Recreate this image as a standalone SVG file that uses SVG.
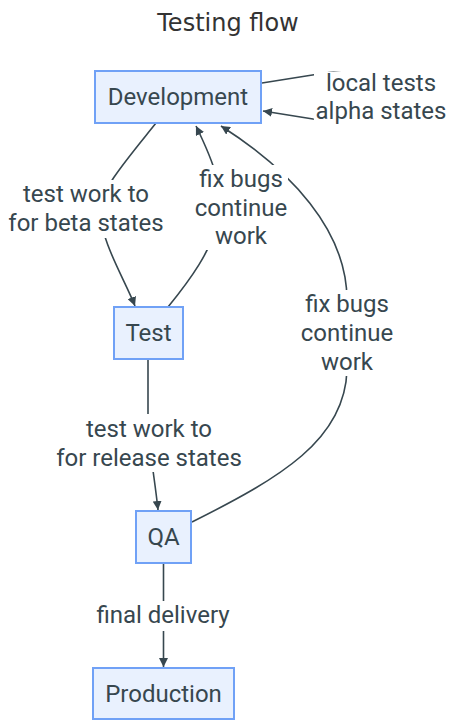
<svg xmlns="http://www.w3.org/2000/svg" width="450" height="720" viewBox="0 0 450 720">
<defs>
<marker id="arr" viewBox="0 0 10 10" refX="10" refY="5" markerWidth="9" markerHeight="9" markerUnits="userSpaceOnUse" orient="auto">
<path d="M0,0 L10,5 L0,10 z" fill="#37474f"/>
</marker>
<style>
.node rect{fill:#e9f1fe;stroke:#70a1f6;stroke-width:2}
.node text{font-family:Roboto,"Liberation Sans",sans-serif;font-size:24px;fill:#37474f;text-anchor:middle}
.edge{fill:none;stroke:#37474f;stroke-width:1.6}
.lbl rect{fill:#ffffff}
.lbl text{font-family:Roboto,"Liberation Sans",sans-serif;font-size:24px;fill:#37474f;text-anchor:middle}
.title{font-family:"DejaVu Sans",sans-serif;font-size:24px;fill:#333333;text-anchor:middle}
</style>
</defs>
<rect width="450" height="720" fill="#ffffff"/>
<text class="title" x="228" y="31">Testing flow</text>
<g id="connectors">
<path class="edge" d="M262,83 L325,73 C360,68 385,95 362,110 C345,120 330,120 313,119 L263,111" marker-end="url(#arr)"/>
<path class="edge" d="M156,123 C128,158 100,190 100,210 C100,240 125,280 135,306" marker-end="url(#arr)"/>
<path class="edge" d="M168,307 C190,280 212,250 218,220 C224,190 215,165 196,126" marker-end="url(#arr)"/>
<path class="edge" d="M192,522 C280,478 345,440 347,370 L347,300 C347,230 290,170 221,126" marker-end="url(#arr)"/>
<path class="edge" d="M148,359 L148,420 C149,450 155,480 158,510" marker-end="url(#arr)"/>
<path class="edge" d="M163.5,563 L163.5,667" marker-end="url(#arr)"/>
</g>
<g id="labels">
<g class="lbl"><rect x="314" y="72" width="134" height="54"/><text x="381" y="91">local tests</text><text x="381" y="119">alpha states</text></g>
<g class="lbl"><rect x="8" y="180" width="158" height="58"/><text x="86" y="202">test work to</text><text x="86" y="231">for beta states</text></g>
<g class="lbl"><rect x="196" y="165" width="92" height="85"/><text x="241" y="187">fix bugs</text><text x="241" y="216">continue</text><text x="241" y="244">work</text></g>
<g class="lbl"><rect x="300" y="290" width="96" height="86"/><text x="347" y="312">fix bugs</text><text x="347" y="341">continue</text><text x="347" y="370">work</text></g>
<g class="lbl"><rect x="60" y="414" width="180" height="58"/><text x="149" y="437">test work to</text><text x="149" y="466">for release states</text></g>
<g class="lbl"><rect x="95" y="601" width="136" height="30"/><text x="163" y="623">final delivery</text></g>
</g>
<g id="dev" class="node"><rect x="95" y="71" width="166" height="52"/><text x="178" y="105">Development</text></g>
<g id="test" class="node"><rect x="114" y="307" width="69" height="52"/><text x="148.5" y="341">Test</text></g>
<g id="qa" class="node"><rect x="136" y="511" width="55" height="52"/><text x="163.5" y="545">QA</text></g>
<g id="production" class="node"><rect x="93" y="668" width="141" height="51"/><text x="163.5" y="702">Production</text></g>
</svg>
